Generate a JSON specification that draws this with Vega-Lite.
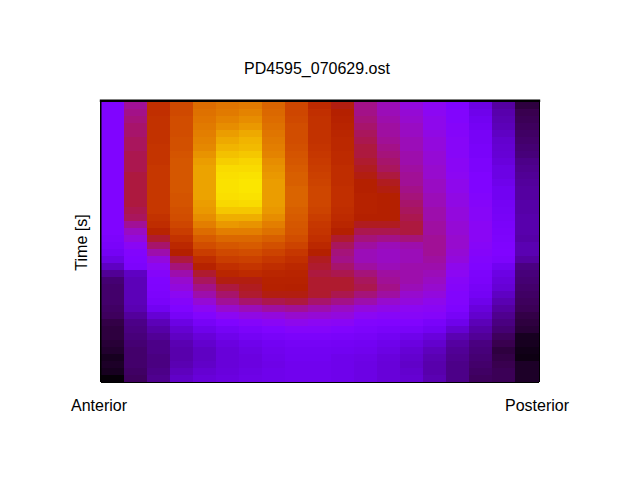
{"$schema":"https://vega.github.io/schema/vega-lite/v6.json","width":438,"height":280,"autosize":"none","padding":{"left":101,"top":102,"right":101,"bottom":98},"background":"white","view":{"stroke":null},"config":{"font":"Liberation Sans"},
"title":{"text":"PD4595_070629.ost","font":"Liberation Sans","fontSize":16,"fontWeight":"normal","color":"#000000","anchor":"middle","offset":22,"dx":-3},
"layer":[
{"data":{"values":[
{"c":0,"r":0,"v":0.25},{"c":0,"r":1,"v":0.25},{"c":0,"r":2,"v":0.25},{"c":0,"r":3,"v":0.25},{"c":0,"r":4,"v":0.25},{"c":0,"r":5,"v":0.25},{"c":0,"r":6,"v":0.25},{"c":0,"r":7,"v":0.25},{"c":0,"r":8,"v":0.25},{"c":0,"r":9,"v":0.25},{"c":0,"r":10,"v":0.25},{"c":0,"r":11,"v":0.25},{"c":0,"r":12,"v":0.25},{"c":0,"r":13,"v":0.25},{"c":0,"r":14,"v":0.25},{"c":0,"r":15,"v":0.25},{"c":0,"r":16,"v":0.25},{"c":0,"r":17,"v":0.25},{"c":0,"r":18,"v":0.25},{"c":0,"r":19,"v":0.24},{"c":0,"r":20,"v":0.23},{"c":0,"r":21,"v":0.21},{"c":0,"r":22,"v":0.18},{"c":0,"r":23,"v":0.14},{"c":0,"r":24,"v":0.1},{"c":0,"r":25,"v":0.075},{"c":0,"r":26,"v":0.07},{"c":0,"r":27,"v":0.07},{"c":0,"r":28,"v":0.07},{"c":0,"r":29,"v":0.065},{"c":0,"r":30,"v":0.06},{"c":0,"r":31,"v":0.045},{"c":0,"r":32,"v":0.04},{"c":0,"r":33,"v":0.04},{"c":0,"r":34,"v":0.035},{"c":0,"r":35,"v":0.03},{"c":0,"r":36,"v":0.02},{"c":0,"r":37,"v":0.025},{"c":0,"r":38,"v":0.02},{"c":0,"r":39,"v":0.005},
{"c":1,"r":0,"v":0.4},{"c":1,"r":1,"v":0.41},{"c":1,"r":2,"v":0.42},{"c":1,"r":3,"v":0.43},{"c":1,"r":4,"v":0.43},{"c":1,"r":5,"v":0.44},{"c":1,"r":6,"v":0.44},{"c":1,"r":7,"v":0.45},{"c":1,"r":8,"v":0.45},{"c":1,"r":9,"v":0.45},{"c":1,"r":10,"v":0.46},{"c":1,"r":11,"v":0.46},{"c":1,"r":12,"v":0.46},{"c":1,"r":13,"v":0.46},{"c":1,"r":14,"v":0.46},{"c":1,"r":15,"v":0.45},{"c":1,"r":16,"v":0.44},{"c":1,"r":17,"v":0.4},{"c":1,"r":18,"v":0.36},{"c":1,"r":19,"v":0.33},{"c":1,"r":20,"v":0.29},{"c":1,"r":21,"v":0.26},{"c":1,"r":22,"v":0.25},{"c":1,"r":23,"v":0.24},{"c":1,"r":24,"v":0.14},{"c":1,"r":25,"v":0.13},{"c":1,"r":26,"v":0.13},{"c":1,"r":27,"v":0.13},{"c":1,"r":28,"v":0.13},{"c":1,"r":29,"v":0.125},{"c":1,"r":30,"v":0.105},{"c":1,"r":31,"v":0.09},{"c":1,"r":32,"v":0.085},{"c":1,"r":33,"v":0.08},{"c":1,"r":34,"v":0.075},{"c":1,"r":35,"v":0.07},{"c":1,"r":36,"v":0.07},{"c":1,"r":37,"v":0.07},{"c":1,"r":38,"v":0.065},{"c":1,"r":39,"v":0.06},
{"c":2,"r":0,"v":0.57},{"c":2,"r":1,"v":0.57},{"c":2,"r":2,"v":0.58},{"c":2,"r":3,"v":0.58},{"c":2,"r":4,"v":0.58},{"c":2,"r":5,"v":0.58},{"c":2,"r":6,"v":0.59},{"c":2,"r":7,"v":0.59},{"c":2,"r":8,"v":0.59},{"c":2,"r":9,"v":0.6},{"c":2,"r":10,"v":0.6},{"c":2,"r":11,"v":0.6},{"c":2,"r":12,"v":0.6},{"c":2,"r":13,"v":0.6},{"c":2,"r":14,"v":0.6},{"c":2,"r":15,"v":0.6},{"c":2,"r":16,"v":0.58},{"c":2,"r":17,"v":0.56},{"c":2,"r":18,"v":0.52},{"c":2,"r":19,"v":0.47},{"c":2,"r":20,"v":0.43},{"c":2,"r":21,"v":0.38},{"c":2,"r":22,"v":0.33},{"c":2,"r":23,"v":0.3},{"c":2,"r":24,"v":0.27},{"c":2,"r":25,"v":0.25},{"c":2,"r":26,"v":0.245},{"c":2,"r":27,"v":0.24},{"c":2,"r":28,"v":0.23},{"c":2,"r":29,"v":0.2},{"c":2,"r":30,"v":0.16},{"c":2,"r":31,"v":0.13},{"c":2,"r":32,"v":0.115},{"c":2,"r":33,"v":0.1},{"c":2,"r":34,"v":0.09},{"c":2,"r":35,"v":0.09},{"c":2,"r":36,"v":0.085},{"c":2,"r":37,"v":0.085},{"c":2,"r":38,"v":0.09},{"c":2,"r":39,"v":0.095},
{"c":3,"r":0,"v":0.66},{"c":3,"r":1,"v":0.66},{"c":3,"r":2,"v":0.67},{"c":3,"r":3,"v":0.67},{"c":3,"r":4,"v":0.67},{"c":3,"r":5,"v":0.68},{"c":3,"r":6,"v":0.68},{"c":3,"r":7,"v":0.69},{"c":3,"r":8,"v":0.7},{"c":3,"r":9,"v":0.7},{"c":3,"r":10,"v":0.7},{"c":3,"r":11,"v":0.7},{"c":3,"r":12,"v":0.7},{"c":3,"r":13,"v":0.69},{"c":3,"r":14,"v":0.69},{"c":3,"r":15,"v":0.68},{"c":3,"r":16,"v":0.67},{"c":3,"r":17,"v":0.65},{"c":3,"r":18,"v":0.62},{"c":3,"r":19,"v":0.58},{"c":3,"r":20,"v":0.54},{"c":3,"r":21,"v":0.5},{"c":3,"r":22,"v":0.46},{"c":3,"r":23,"v":0.42},{"c":3,"r":24,"v":0.38},{"c":3,"r":25,"v":0.35},{"c":3,"r":26,"v":0.33},{"c":3,"r":27,"v":0.3},{"c":3,"r":28,"v":0.27},{"c":3,"r":29,"v":0.25},{"c":3,"r":30,"v":0.22},{"c":3,"r":31,"v":0.18},{"c":3,"r":32,"v":0.155},{"c":3,"r":33,"v":0.14},{"c":3,"r":34,"v":0.125},{"c":3,"r":35,"v":0.12},{"c":3,"r":36,"v":0.12},{"c":3,"r":37,"v":0.125},{"c":3,"r":38,"v":0.135},{"c":3,"r":39,"v":0.145},
{"c":4,"r":0,"v":0.75},{"c":4,"r":1,"v":0.76},{"c":4,"r":2,"v":0.77},{"c":4,"r":3,"v":0.78},{"c":4,"r":4,"v":0.79},{"c":4,"r":5,"v":0.8},{"c":4,"r":6,"v":0.81},{"c":4,"r":7,"v":0.83},{"c":4,"r":8,"v":0.85},{"c":4,"r":9,"v":0.86},{"c":4,"r":10,"v":0.86},{"c":4,"r":11,"v":0.86},{"c":4,"r":12,"v":0.86},{"c":4,"r":13,"v":0.86},{"c":4,"r":14,"v":0.85},{"c":4,"r":15,"v":0.84},{"c":4,"r":16,"v":0.82},{"c":4,"r":17,"v":0.79},{"c":4,"r":18,"v":0.75},{"c":4,"r":19,"v":0.71},{"c":4,"r":20,"v":0.67},{"c":4,"r":21,"v":0.62},{"c":4,"r":22,"v":0.56},{"c":4,"r":23,"v":0.51},{"c":4,"r":24,"v":0.47},{"c":4,"r":25,"v":0.44},{"c":4,"r":26,"v":0.41},{"c":4,"r":27,"v":0.38},{"c":4,"r":28,"v":0.34},{"c":4,"r":29,"v":0.3},{"c":4,"r":30,"v":0.26},{"c":4,"r":31,"v":0.22},{"c":4,"r":32,"v":0.19},{"c":4,"r":33,"v":0.165},{"c":4,"r":34,"v":0.15},{"c":4,"r":35,"v":0.14},{"c":4,"r":36,"v":0.14},{"c":4,"r":37,"v":0.145},{"c":4,"r":38,"v":0.155},{"c":4,"r":39,"v":0.165},
{"c":5,"r":0,"v":0.77},{"c":5,"r":1,"v":0.78},{"c":5,"r":2,"v":0.8},{"c":5,"r":3,"v":0.82},{"c":5,"r":4,"v":0.85},{"c":5,"r":5,"v":0.87},{"c":5,"r":6,"v":0.89},{"c":5,"r":7,"v":0.91},{"c":5,"r":8,"v":0.93},{"c":5,"r":9,"v":0.95},{"c":5,"r":10,"v":0.955},{"c":5,"r":11,"v":0.96},{"c":5,"r":12,"v":0.96},{"c":5,"r":13,"v":0.955},{"c":5,"r":14,"v":0.945},{"c":5,"r":15,"v":0.92},{"c":5,"r":16,"v":0.88},{"c":5,"r":17,"v":0.84},{"c":5,"r":18,"v":0.79},{"c":5,"r":19,"v":0.74},{"c":5,"r":20,"v":0.7},{"c":5,"r":21,"v":0.66},{"c":5,"r":22,"v":0.62},{"c":5,"r":23,"v":0.57},{"c":5,"r":24,"v":0.53},{"c":5,"r":25,"v":0.49},{"c":5,"r":26,"v":0.46},{"c":5,"r":27,"v":0.43},{"c":5,"r":28,"v":0.4},{"c":5,"r":29,"v":0.35},{"c":5,"r":30,"v":0.3},{"c":5,"r":31,"v":0.25},{"c":5,"r":32,"v":0.215},{"c":5,"r":33,"v":0.19},{"c":5,"r":34,"v":0.175},{"c":5,"r":35,"v":0.165},{"c":5,"r":36,"v":0.165},{"c":5,"r":37,"v":0.165},{"c":5,"r":38,"v":0.17},{"c":5,"r":39,"v":0.175},
{"c":6,"r":0,"v":0.78},{"c":6,"r":1,"v":0.8},{"c":6,"r":2,"v":0.82},{"c":6,"r":3,"v":0.84},{"c":6,"r":4,"v":0.87},{"c":6,"r":5,"v":0.89},{"c":6,"r":6,"v":0.9},{"c":6,"r":7,"v":0.92},{"c":6,"r":8,"v":0.94},{"c":6,"r":9,"v":0.95},{"c":6,"r":10,"v":0.96},{"c":6,"r":11,"v":0.965},{"c":6,"r":12,"v":0.965},{"c":6,"r":13,"v":0.96},{"c":6,"r":14,"v":0.95},{"c":6,"r":15,"v":0.92},{"c":6,"r":16,"v":0.88},{"c":6,"r":17,"v":0.83},{"c":6,"r":18,"v":0.79},{"c":6,"r":19,"v":0.74},{"c":6,"r":20,"v":0.71},{"c":6,"r":21,"v":0.67},{"c":6,"r":22,"v":0.63},{"c":6,"r":23,"v":0.59},{"c":6,"r":24,"v":0.55},{"c":6,"r":25,"v":0.49},{"c":6,"r":26,"v":0.48},{"c":6,"r":27,"v":0.47},{"c":6,"r":28,"v":0.43},{"c":6,"r":29,"v":0.37},{"c":6,"r":30,"v":0.32},{"c":6,"r":31,"v":0.27},{"c":6,"r":32,"v":0.235},{"c":6,"r":33,"v":0.21},{"c":6,"r":34,"v":0.19},{"c":6,"r":35,"v":0.18},{"c":6,"r":36,"v":0.175},{"c":6,"r":37,"v":0.175},{"c":6,"r":38,"v":0.18},{"c":6,"r":39,"v":0.185},
{"c":7,"r":0,"v":0.73},{"c":7,"r":1,"v":0.74},{"c":7,"r":2,"v":0.75},{"c":7,"r":3,"v":0.76},{"c":7,"r":4,"v":0.77},{"c":7,"r":5,"v":0.78},{"c":7,"r":6,"v":0.79},{"c":7,"r":7,"v":0.8},{"c":7,"r":8,"v":0.82},{"c":7,"r":9,"v":0.83},{"c":7,"r":10,"v":0.84},{"c":7,"r":11,"v":0.85},{"c":7,"r":12,"v":0.85},{"c":7,"r":13,"v":0.85},{"c":7,"r":14,"v":0.85},{"c":7,"r":15,"v":0.84},{"c":7,"r":16,"v":0.82},{"c":7,"r":17,"v":0.79},{"c":7,"r":18,"v":0.76},{"c":7,"r":19,"v":0.72},{"c":7,"r":20,"v":0.68},{"c":7,"r":21,"v":0.64},{"c":7,"r":22,"v":0.6},{"c":7,"r":23,"v":0.56},{"c":7,"r":24,"v":0.53},{"c":7,"r":25,"v":0.51},{"c":7,"r":26,"v":0.505},{"c":7,"r":27,"v":0.49},{"c":7,"r":28,"v":0.45},{"c":7,"r":29,"v":0.39},{"c":7,"r":30,"v":0.33},{"c":7,"r":31,"v":0.29},{"c":7,"r":32,"v":0.25},{"c":7,"r":33,"v":0.225},{"c":7,"r":34,"v":0.205},{"c":7,"r":35,"v":0.195},{"c":7,"r":36,"v":0.19},{"c":7,"r":37,"v":0.185},{"c":7,"r":38,"v":0.19},{"c":7,"r":39,"v":0.19},
{"c":8,"r":0,"v":0.65},{"c":8,"r":1,"v":0.65},{"c":8,"r":2,"v":0.66},{"c":8,"r":3,"v":0.67},{"c":8,"r":4,"v":0.67},{"c":8,"r":5,"v":0.67},{"c":8,"r":6,"v":0.68},{"c":8,"r":7,"v":0.69},{"c":8,"r":8,"v":0.7},{"c":8,"r":9,"v":0.71},{"c":8,"r":10,"v":0.72},{"c":8,"r":11,"v":0.72},{"c":8,"r":12,"v":0.73},{"c":8,"r":13,"v":0.73},{"c":8,"r":14,"v":0.73},{"c":8,"r":15,"v":0.72},{"c":8,"r":16,"v":0.71},{"c":8,"r":17,"v":0.7},{"c":8,"r":18,"v":0.69},{"c":8,"r":19,"v":0.67},{"c":8,"r":20,"v":0.64},{"c":8,"r":21,"v":0.6},{"c":8,"r":22,"v":0.57},{"c":8,"r":23,"v":0.54},{"c":8,"r":24,"v":0.52},{"c":8,"r":25,"v":0.51},{"c":8,"r":26,"v":0.5},{"c":8,"r":27,"v":0.49},{"c":8,"r":28,"v":0.46},{"c":8,"r":29,"v":0.4},{"c":8,"r":30,"v":0.35},{"c":8,"r":31,"v":0.31},{"c":8,"r":32,"v":0.265},{"c":8,"r":33,"v":0.235},{"c":8,"r":34,"v":0.215},{"c":8,"r":35,"v":0.205},{"c":8,"r":36,"v":0.2},{"c":8,"r":37,"v":0.195},{"c":8,"r":38,"v":0.195},{"c":8,"r":39,"v":0.195},
{"c":9,"r":0,"v":0.55},{"c":9,"r":1,"v":0.57},{"c":9,"r":2,"v":0.58},{"c":9,"r":3,"v":0.58},{"c":9,"r":4,"v":0.58},{"c":9,"r":5,"v":0.58},{"c":9,"r":6,"v":0.59},{"c":9,"r":7,"v":0.6},{"c":9,"r":8,"v":0.61},{"c":9,"r":9,"v":0.62},{"c":9,"r":10,"v":0.63},{"c":9,"r":11,"v":0.64},{"c":9,"r":12,"v":0.65},{"c":9,"r":13,"v":0.65},{"c":9,"r":14,"v":0.65},{"c":9,"r":15,"v":0.64},{"c":9,"r":16,"v":0.62},{"c":9,"r":17,"v":0.6},{"c":9,"r":18,"v":0.59},{"c":9,"r":19,"v":0.57},{"c":9,"r":20,"v":0.54},{"c":9,"r":21,"v":0.5},{"c":9,"r":22,"v":0.48},{"c":9,"r":23,"v":0.47},{"c":9,"r":24,"v":0.46},{"c":9,"r":25,"v":0.47},{"c":9,"r":26,"v":0.47},{"c":9,"r":27,"v":0.47},{"c":9,"r":28,"v":0.43},{"c":9,"r":29,"v":0.38},{"c":9,"r":30,"v":0.34},{"c":9,"r":31,"v":0.3},{"c":9,"r":32,"v":0.265},{"c":9,"r":33,"v":0.235},{"c":9,"r":34,"v":0.215},{"c":9,"r":35,"v":0.205},{"c":9,"r":36,"v":0.2},{"c":9,"r":37,"v":0.195},{"c":9,"r":38,"v":0.195},{"c":9,"r":39,"v":0.195},
{"c":10,"r":0,"v":0.49},{"c":10,"r":1,"v":0.5},{"c":10,"r":2,"v":0.51},{"c":10,"r":3,"v":0.52},{"c":10,"r":4,"v":0.53},{"c":10,"r":5,"v":0.54},{"c":10,"r":6,"v":0.54},{"c":10,"r":7,"v":0.55},{"c":10,"r":8,"v":0.55},{"c":10,"r":9,"v":0.56},{"c":10,"r":10,"v":0.56},{"c":10,"r":11,"v":0.56},{"c":10,"r":12,"v":0.57},{"c":10,"r":13,"v":0.57},{"c":10,"r":14,"v":0.57},{"c":10,"r":15,"v":0.56},{"c":10,"r":16,"v":0.55},{"c":10,"r":17,"v":0.53},{"c":10,"r":18,"v":0.5},{"c":10,"r":19,"v":0.47},{"c":10,"r":20,"v":0.44},{"c":10,"r":21,"v":0.42},{"c":10,"r":22,"v":0.41},{"c":10,"r":23,"v":0.43},{"c":10,"r":24,"v":0.45},{"c":10,"r":25,"v":0.47},{"c":10,"r":26,"v":0.47},{"c":10,"r":27,"v":0.45},{"c":10,"r":28,"v":0.41},{"c":10,"r":29,"v":0.36},{"c":10,"r":30,"v":0.33},{"c":10,"r":31,"v":0.29},{"c":10,"r":32,"v":0.255},{"c":10,"r":33,"v":0.23},{"c":10,"r":34,"v":0.21},{"c":10,"r":35,"v":0.2},{"c":10,"r":36,"v":0.19},{"c":10,"r":37,"v":0.19},{"c":10,"r":38,"v":0.19},{"c":10,"r":39,"v":0.19},
{"c":11,"r":0,"v":0.41},{"c":11,"r":1,"v":0.41},{"c":11,"r":2,"v":0.42},{"c":11,"r":3,"v":0.43},{"c":11,"r":4,"v":0.44},{"c":11,"r":5,"v":0.45},{"c":11,"r":6,"v":0.46},{"c":11,"r":7,"v":0.46},{"c":11,"r":8,"v":0.47},{"c":11,"r":9,"v":0.48},{"c":11,"r":10,"v":0.49},{"c":11,"r":11,"v":0.5},{"c":11,"r":12,"v":0.5},{"c":11,"r":13,"v":0.51},{"c":11,"r":14,"v":0.51},{"c":11,"r":15,"v":0.51},{"c":11,"r":16,"v":0.5},{"c":11,"r":17,"v":0.48},{"c":11,"r":18,"v":0.45},{"c":11,"r":19,"v":0.42},{"c":11,"r":20,"v":0.39},{"c":11,"r":21,"v":0.37},{"c":11,"r":22,"v":0.37},{"c":11,"r":23,"v":0.39},{"c":11,"r":24,"v":0.42},{"c":11,"r":25,"v":0.44},{"c":11,"r":26,"v":0.45},{"c":11,"r":27,"v":0.42},{"c":11,"r":28,"v":0.38},{"c":11,"r":29,"v":0.33},{"c":11,"r":30,"v":0.295},{"c":11,"r":31,"v":0.26},{"c":11,"r":32,"v":0.24},{"c":11,"r":33,"v":0.22},{"c":11,"r":34,"v":0.205},{"c":11,"r":35,"v":0.195},{"c":11,"r":36,"v":0.185},{"c":11,"r":37,"v":0.18},{"c":11,"r":38,"v":0.18},{"c":11,"r":39,"v":0.18},
{"c":12,"r":0,"v":0.37},{"c":12,"r":1,"v":0.37},{"c":12,"r":2,"v":0.38},{"c":12,"r":3,"v":0.39},{"c":12,"r":4,"v":0.39},{"c":12,"r":5,"v":0.4},{"c":12,"r":6,"v":0.41},{"c":12,"r":7,"v":0.42},{"c":12,"r":8,"v":0.43},{"c":12,"r":9,"v":0.44},{"c":12,"r":10,"v":0.46},{"c":12,"r":11,"v":0.48},{"c":12,"r":12,"v":0.49},{"c":12,"r":13,"v":0.5},{"c":12,"r":14,"v":0.5},{"c":12,"r":15,"v":0.5},{"c":12,"r":16,"v":0.5},{"c":12,"r":17,"v":0.48},{"c":12,"r":18,"v":0.45},{"c":12,"r":19,"v":0.41},{"c":12,"r":20,"v":0.37},{"c":12,"r":21,"v":0.36},{"c":12,"r":22,"v":0.36},{"c":12,"r":23,"v":0.37},{"c":12,"r":24,"v":0.39},{"c":12,"r":25,"v":0.4},{"c":12,"r":26,"v":0.41},{"c":12,"r":27,"v":0.39},{"c":12,"r":28,"v":0.35},{"c":12,"r":29,"v":0.315},{"c":12,"r":30,"v":0.28},{"c":12,"r":31,"v":0.255},{"c":12,"r":32,"v":0.23},{"c":12,"r":33,"v":0.205},{"c":12,"r":34,"v":0.19},{"c":12,"r":35,"v":0.18},{"c":12,"r":36,"v":0.17},{"c":12,"r":37,"v":0.165},{"c":12,"r":38,"v":0.165},{"c":12,"r":39,"v":0.165},
{"c":13,"r":0,"v":0.33},{"c":13,"r":1,"v":0.34},{"c":13,"r":2,"v":0.35},{"c":13,"r":3,"v":0.36},{"c":13,"r":4,"v":0.36},{"c":13,"r":5,"v":0.37},{"c":13,"r":6,"v":0.37},{"c":13,"r":7,"v":0.38},{"c":13,"r":8,"v":0.38},{"c":13,"r":9,"v":0.39},{"c":13,"r":10,"v":0.4},{"c":13,"r":11,"v":0.4},{"c":13,"r":12,"v":0.41},{"c":13,"r":13,"v":0.42},{"c":13,"r":14,"v":0.43},{"c":13,"r":15,"v":0.44},{"c":13,"r":16,"v":0.45},{"c":13,"r":17,"v":0.46},{"c":13,"r":18,"v":0.46},{"c":13,"r":19,"v":0.42},{"c":13,"r":20,"v":0.38},{"c":13,"r":21,"v":0.37},{"c":13,"r":22,"v":0.37},{"c":13,"r":23,"v":0.38},{"c":13,"r":24,"v":0.38},{"c":13,"r":25,"v":0.38},{"c":13,"r":26,"v":0.37},{"c":13,"r":27,"v":0.35},{"c":13,"r":28,"v":0.33},{"c":13,"r":29,"v":0.3},{"c":13,"r":30,"v":0.28},{"c":13,"r":31,"v":0.255},{"c":13,"r":32,"v":0.225},{"c":13,"r":33,"v":0.19},{"c":13,"r":34,"v":0.175},{"c":13,"r":35,"v":0.16},{"c":13,"r":36,"v":0.15},{"c":13,"r":37,"v":0.145},{"c":13,"r":38,"v":0.15},{"c":13,"r":39,"v":0.155},
{"c":14,"r":0,"v":0.3},{"c":14,"r":1,"v":0.3},{"c":14,"r":2,"v":0.31},{"c":14,"r":3,"v":0.31},{"c":14,"r":4,"v":0.32},{"c":14,"r":5,"v":0.33},{"c":14,"r":6,"v":0.33},{"c":14,"r":7,"v":0.34},{"c":14,"r":8,"v":0.34},{"c":14,"r":9,"v":0.35},{"c":14,"r":10,"v":0.35},{"c":14,"r":11,"v":0.36},{"c":14,"r":12,"v":0.36},{"c":14,"r":13,"v":0.37},{"c":14,"r":14,"v":0.37},{"c":14,"r":15,"v":0.38},{"c":14,"r":16,"v":0.38},{"c":14,"r":17,"v":0.39},{"c":14,"r":18,"v":0.39},{"c":14,"r":19,"v":0.4},{"c":14,"r":20,"v":0.4},{"c":14,"r":21,"v":0.4},{"c":14,"r":22,"v":0.39},{"c":14,"r":23,"v":0.38},{"c":14,"r":24,"v":0.37},{"c":14,"r":25,"v":0.36},{"c":14,"r":26,"v":0.35},{"c":14,"r":27,"v":0.33},{"c":14,"r":28,"v":0.31},{"c":14,"r":29,"v":0.29},{"c":14,"r":30,"v":0.27},{"c":14,"r":31,"v":0.23},{"c":14,"r":32,"v":0.205},{"c":14,"r":33,"v":0.17},{"c":14,"r":34,"v":0.15},{"c":14,"r":35,"v":0.135},{"c":14,"r":36,"v":0.125},{"c":14,"r":37,"v":0.12},{"c":14,"r":38,"v":0.12},{"c":14,"r":39,"v":0.125},
{"c":15,"r":0,"v":0.25},{"c":15,"r":1,"v":0.26},{"c":15,"r":2,"v":0.26},{"c":15,"r":3,"v":0.27},{"c":15,"r":4,"v":0.27},{"c":15,"r":5,"v":0.28},{"c":15,"r":6,"v":0.28},{"c":15,"r":7,"v":0.28},{"c":15,"r":8,"v":0.29},{"c":15,"r":9,"v":0.29},{"c":15,"r":10,"v":0.3},{"c":15,"r":11,"v":0.31},{"c":15,"r":12,"v":0.31},{"c":15,"r":13,"v":0.32},{"c":15,"r":14,"v":0.32},{"c":15,"r":15,"v":0.33},{"c":15,"r":16,"v":0.33},{"c":15,"r":17,"v":0.34},{"c":15,"r":18,"v":0.34},{"c":15,"r":19,"v":0.35},{"c":15,"r":20,"v":0.35},{"c":15,"r":21,"v":0.34},{"c":15,"r":22,"v":0.33},{"c":15,"r":23,"v":0.31},{"c":15,"r":24,"v":0.3},{"c":15,"r":25,"v":0.28},{"c":15,"r":26,"v":0.27},{"c":15,"r":27,"v":0.26},{"c":15,"r":28,"v":0.26},{"c":15,"r":29,"v":0.245},{"c":15,"r":30,"v":0.22},{"c":15,"r":31,"v":0.19},{"c":15,"r":32,"v":0.155},{"c":15,"r":33,"v":0.125},{"c":15,"r":34,"v":0.11},{"c":15,"r":35,"v":0.1},{"c":15,"r":36,"v":0.095},{"c":15,"r":37,"v":0.09},{"c":15,"r":38,"v":0.09},{"c":15,"r":39,"v":0.09},
{"c":16,"r":0,"v":0.18},{"c":16,"r":1,"v":0.19},{"c":16,"r":2,"v":0.2},{"c":16,"r":3,"v":0.21},{"c":16,"r":4,"v":0.22},{"c":16,"r":5,"v":0.22},{"c":16,"r":6,"v":0.23},{"c":16,"r":7,"v":0.23},{"c":16,"r":8,"v":0.24},{"c":16,"r":9,"v":0.24},{"c":16,"r":10,"v":0.25},{"c":16,"r":11,"v":0.25},{"c":16,"r":12,"v":0.25},{"c":16,"r":13,"v":0.26},{"c":16,"r":14,"v":0.27},{"c":16,"r":15,"v":0.28},{"c":16,"r":16,"v":0.28},{"c":16,"r":17,"v":0.29},{"c":16,"r":18,"v":0.29},{"c":16,"r":19,"v":0.29},{"c":16,"r":20,"v":0.28},{"c":16,"r":21,"v":0.27},{"c":16,"r":22,"v":0.26},{"c":16,"r":23,"v":0.25},{"c":16,"r":24,"v":0.24},{"c":16,"r":25,"v":0.235},{"c":16,"r":26,"v":0.22},{"c":16,"r":27,"v":0.21},{"c":16,"r":28,"v":0.19},{"c":16,"r":29,"v":0.17},{"c":16,"r":30,"v":0.15},{"c":16,"r":31,"v":0.13},{"c":16,"r":32,"v":0.115},{"c":16,"r":33,"v":0.1},{"c":16,"r":34,"v":0.085},{"c":16,"r":35,"v":0.08},{"c":16,"r":36,"v":0.075},{"c":16,"r":37,"v":0.07},{"c":16,"r":38,"v":0.065},{"c":16,"r":39,"v":0.06},
{"c":17,"r":0,"v":0.11},{"c":17,"r":1,"v":0.12},{"c":17,"r":2,"v":0.125},{"c":17,"r":3,"v":0.13},{"c":17,"r":4,"v":0.14},{"c":17,"r":5,"v":0.15},{"c":17,"r":6,"v":0.155},{"c":17,"r":7,"v":0.16},{"c":17,"r":8,"v":0.17},{"c":17,"r":9,"v":0.18},{"c":17,"r":10,"v":0.18},{"c":17,"r":11,"v":0.19},{"c":17,"r":12,"v":0.2},{"c":17,"r":13,"v":0.2},{"c":17,"r":14,"v":0.21},{"c":17,"r":15,"v":0.215},{"c":17,"r":16,"v":0.22},{"c":17,"r":17,"v":0.23},{"c":17,"r":18,"v":0.235},{"c":17,"r":19,"v":0.24},{"c":17,"r":20,"v":0.245},{"c":17,"r":21,"v":0.25},{"c":17,"r":22,"v":0.24},{"c":17,"r":23,"v":0.2},{"c":17,"r":24,"v":0.18},{"c":17,"r":25,"v":0.17},{"c":17,"r":26,"v":0.16},{"c":17,"r":27,"v":0.14},{"c":17,"r":28,"v":0.125},{"c":17,"r":29,"v":0.11},{"c":17,"r":30,"v":0.095},{"c":17,"r":31,"v":0.085},{"c":17,"r":32,"v":0.075},{"c":17,"r":33,"v":0.06},{"c":17,"r":34,"v":0.05},{"c":17,"r":35,"v":0.04},{"c":17,"r":36,"v":0.045},{"c":17,"r":37,"v":0.05},{"c":17,"r":38,"v":0.055},{"c":17,"r":39,"v":0.055},
{"c":18,"r":0,"v":0.04},{"c":18,"r":1,"v":0.05},{"c":18,"r":2,"v":0.055},{"c":18,"r":3,"v":0.06},{"c":18,"r":4,"v":0.065},{"c":18,"r":5,"v":0.07},{"c":18,"r":6,"v":0.075},{"c":18,"r":7,"v":0.08},{"c":18,"r":8,"v":0.09},{"c":18,"r":9,"v":0.095},{"c":18,"r":10,"v":0.1},{"c":18,"r":11,"v":0.105},{"c":18,"r":12,"v":0.11},{"c":18,"r":13,"v":0.11},{"c":18,"r":14,"v":0.115},{"c":18,"r":15,"v":0.115},{"c":18,"r":16,"v":0.12},{"c":18,"r":17,"v":0.12},{"c":18,"r":18,"v":0.12},{"c":18,"r":19,"v":0.115},{"c":18,"r":20,"v":0.125},{"c":18,"r":21,"v":0.125},{"c":18,"r":22,"v":0.11},{"c":18,"r":23,"v":0.085},{"c":18,"r":24,"v":0.08},{"c":18,"r":25,"v":0.075},{"c":18,"r":26,"v":0.07},{"c":18,"r":27,"v":0.065},{"c":18,"r":28,"v":0.06},{"c":18,"r":29,"v":0.055},{"c":18,"r":30,"v":0.045},{"c":18,"r":31,"v":0.04},{"c":18,"r":32,"v":0.035},{"c":18,"r":33,"v":0.02},{"c":18,"r":34,"v":0.02},{"c":18,"r":35,"v":0.015},{"c":18,"r":36,"v":0.012},{"c":18,"r":37,"v":0.025},{"c":18,"r":38,"v":0.025},{"c":18,"r":39,"v":0.025}
]},
"mark":{"type":"rect","width":24,"height":8,"clip":true},
"encoding":{
"x":{"field":"c","type":"quantitative","scale":{"domain":[-0.5,18.5],"round":true,"nice":false,"zero":false},
"axis":{"title":null,"values":[-0.5,18.5],"ticks":false,"domain":false,"grid":false,"labelExpr":"datum.value<0?'Anterior':'Posterior'","labelFont":"Liberation Sans","labelFontSize":16,"labelColor":"#000000","labelPadding":15,"labelOffset":-2.5,"labelFlush":false,"labelBound":false,"labelOverlap":false,"labelAlign":"center"}},
"y":{"field":"r","type":"quantitative","scale":{"domain":[-0.5,39.5],"reverse":true,"nice":false,"zero":false,"round":true},
"axis":{"title":"Time [s]","labels":false,"ticks":false,"domain":false,"grid":false,"titleFont":"Liberation Sans","titleFontSize":16,"titleFontWeight":"normal","titleColor":"#000000","titlePadding":12}},
"color":{"field":"v","type":"quantitative","legend":null,"scale":{"type":"linear","clamp":true,"interpolate":"rgb","domain":[0,0.05,0.1,0.15,0.2,0.25,0.3,0.35,0.4,0.45,0.5,0.55,0.6,0.65,0.7,0.75,0.8,0.85,0.9,0.95,1],"range":["#000000","#39004f","#510096","#6301ce","#7202f2","#8004ff","#8c07f3","#970bce","#a11096","#ab174f","#b42000","#bd2a00","#c63700","#ce4600","#d55700","#dd6c00","#e48300","#eb9d00","#f2ba00","#f9db00","#ffff00"]}}
}},
{"data":{"values":[{"edge":"top"}]},"mark":{"type":"rule","color":"#000000","strokeWidth":2.4,"yOffset":-1.2,"strokeCap":"square"},"encoding":{"y":{"datum":-0.5}}},
{"data":{"values":[{"edge":"bottom"}]},"mark":{"type":"rule","color":"#000000","strokeWidth":1,"yOffset":0.5},"encoding":{"y":{"datum":39.5}}},
{"data":{"values":[{"edge":"left"}]},"mark":{"type":"rule","color":"#000000","strokeWidth":1.5,"xOffset":-0.25},"encoding":{"x":{"datum":-0.5}}},
{"data":{"values":[{"edge":"right"}]},"mark":{"type":"rule","color":"#000000","strokeWidth":1,"xOffset":0.5},"encoding":{"x":{"datum":18.5}}}
]}
